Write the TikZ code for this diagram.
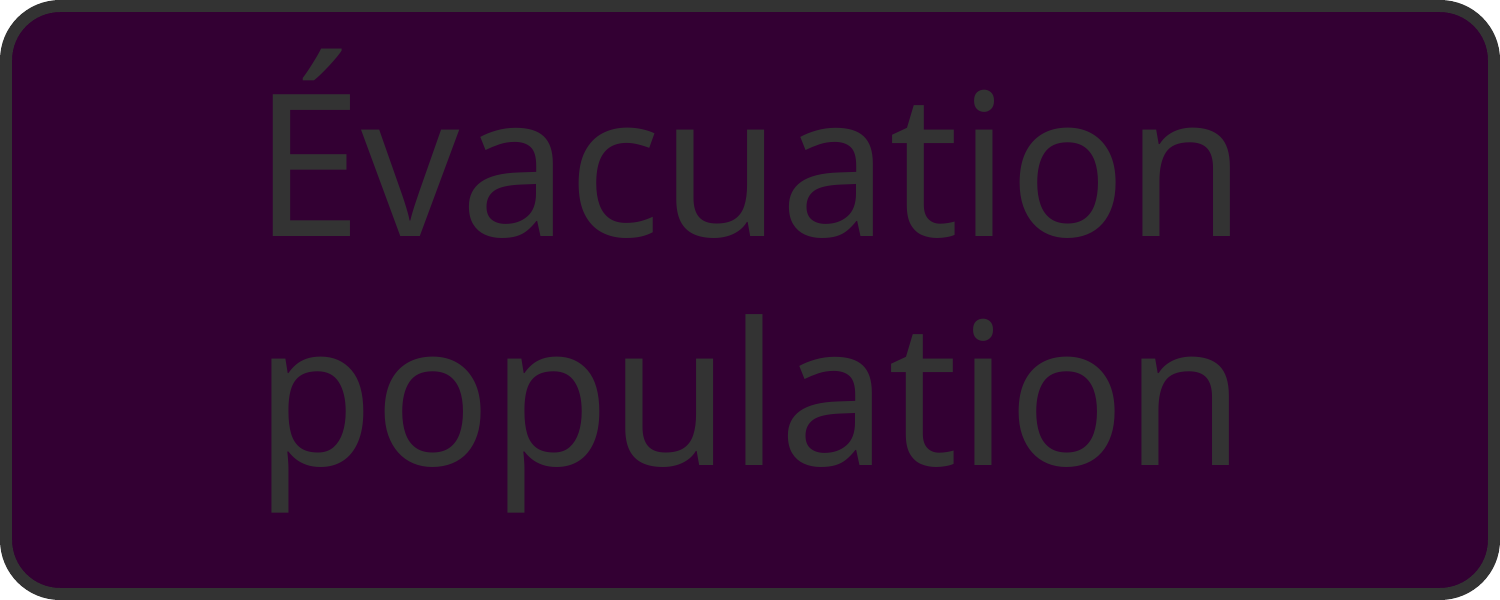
\documentclass[tikz,border=0pt]{standalone}
\usepackage{fontspec}
\setmainfont[FakeStretch=0.974]{Noto Sans}
\definecolor{boxfill}{HTML}{330033}
\definecolor{boxline}{HTML}{333333}
\tikzset{
  mainbox/.style={draw=boxline, fill=boxfill, line width=0.12cm, rounded corners=0.54cm},
  maintext/.style={text=boxline, align=center, inner sep=0pt, font=\fontsize{56.5}{65}\selectfont}
}
\begin{document}
\begin{tikzpicture}
\useasboundingbox (0,0) rectangle (15,6);
\draw[mainbox] (0.06,0.06) rectangle (14.94,5.94);
\node[maintext] (label) at (7.5,3.19) {Évacuation\\population};
\end{tikzpicture}
\end{document}
